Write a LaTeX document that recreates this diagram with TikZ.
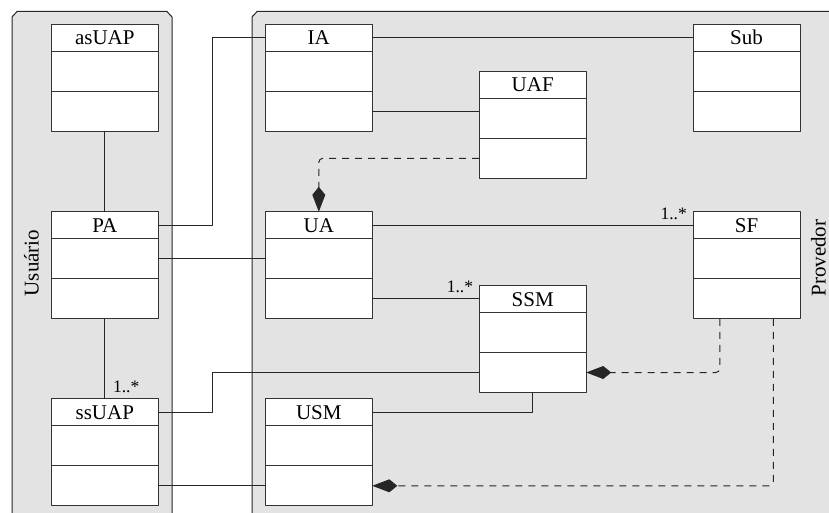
\documentclass[tikz,border=0pt]{standalone}
\usepackage{fontspec}
\setmainfont{Liberation Serif}
\usetikzlibrary{arrows.meta,positioning}
\definecolor{laneGray}{gray}{0.89}

% class box: header + two empty compartments
\newcommand{\umlclass}[3]{%
  \node[hdr] (#1) at (#2) {#3};
  \node[cmp, below=0pt of #1] (#1-m) {};
  \node[cmp, below=0pt of #1-m] (#1-b) {};
}

\begin{document}
\begin{tikzpicture}[
      x=1pt, y=-1pt, line join=round, >=Latex,
      font=\fontsize{21}{24}\selectfont,
      lane/.style={fill=laneGray, draw=black!85, line width=1pt},
      hdr/.style={draw=black!80, fill=white, line width=1pt,
        minimum width=107pt, minimum height=27pt, inner sep=0pt,
        outer sep=0pt, text height=14pt, text depth=0pt},
      cmp/.style={hdr, minimum height=40pt},
      assoc/.style={draw=black!85, line width=1pt},
      dep/.style={assoc, dash pattern=on 7pt off 6pt, rounded corners=4pt,
        -{Kite[length=25pt,width=13pt,inset=8pt]}},
      mult/.style={inner sep=0pt, font=\fontsize{17.5}{20}\selectfont},
      lanelabel/.style={rotate=90, inner sep=0pt}
    ]

    \useasboundingbox (0,0) rectangle (829,513);
    \clip (0,0) rectangle (829,513);

    % ------------------ Layout ------------------
    \def\colA{104.8}
    \def\colB{318.8}
    \def\colC{532.7}
    \def\colD{746.5}
    \def\rowA{38}
    \def\rowB{225.3}
    \def\rowC{412.3}

    % ------------------ Swimlanes ------------------
    \fill[laneGray] (252,530) -- (252,17) -- (257.3,11.3) -- (840,11.3)
    -- (840,530) -- cycle;
    \draw[lane] (12,520) -- (12,17) -- (17.3,11.3) -- (166.7,11.3)
    -- (172,17) -- (172,520);
    \draw[lane] (252,520) -- (252,17) -- (257.3,11.3) -- (840,11.3);

    \node[lanelabel] (usuario) at (31.5,263) {Usuário};
    \node[lanelabel] (provedor) at (818.5,258) {Provedor};

    % ------------------ Classes ------------------
    \umlclass{asUAP}{\colA,\rowA}{asUAP}
    \umlclass{PA}{\colA,\rowB}{PA}
    \umlclass{ssUAP}{\colA,\rowC}{ssUAP}
    \umlclass{IA}{\colB,\rowA}{IA}
    \umlclass{UAF}{\colC,84.8}{UAF}
    \umlclass{Sub}{\colD,\rowA}{Sub}
    \umlclass{UA}{\colB,\rowB}{UA}
    \umlclass{SF}{\colD,\rowB}{SF}
    \umlclass{SSM}{\colC,299}{SSM}
    \umlclass{USM}{\colB,\rowC}{USM}

    % ------------------ Associations ------------------
    \draw[assoc] (asUAP-b.south) -- (PA.north);
    \draw[assoc] (PA-b.south) -- (ssUAP.north);
    \draw[assoc] (PA.east) -- ++(54,0) |- (IA.west);
    \draw[assoc] (PA-m.east) -- (UA-m.west);
    \draw[assoc] (ssUAP.east) -- ++(54,0) |- (SSM-b.west);
    \draw[assoc] (ssUAP-b.east) -- (USM-b.west);
    \draw[assoc] (IA.east) -- (Sub.west);
    \draw[assoc] (IA-b.east) -- (IA-b.east -| UAF.west);
    \draw[assoc] (UA.east) -- (SF.west);
    \draw[assoc] (UA-b.east) -- (UA-b.east -| SSM.west);
    \draw[assoc] (SSM-b.south) |- (USM.east);

    % ------------------ Dependencies ------------------
    \draw[dep] (UAF-b.west) -| (UA.north);
    \draw[dep] ([xshift=-26.75pt]SF-b.south) |- (SSM-b.east);
    \draw[dep] ([xshift=26.75pt]SF-b.south) |- (USM-b.east);

    % ------------------ Multiplicities ------------------
    \node[mult, anchor=base west] (mssUAP)
    at ([xshift=8pt,yshift=6.5pt]ssUAP.north) {1..*};
    \node[mult, anchor=base east] (mSF)
    at ([xshift=-6pt,yshift=6pt]SF.west) {1..*};
    \node[mult, anchor=base east] (mSSM)
    at ([xshift=-6pt,yshift=7pt]SSM.west) {1..*};

  \end{tikzpicture}
\end{document}
